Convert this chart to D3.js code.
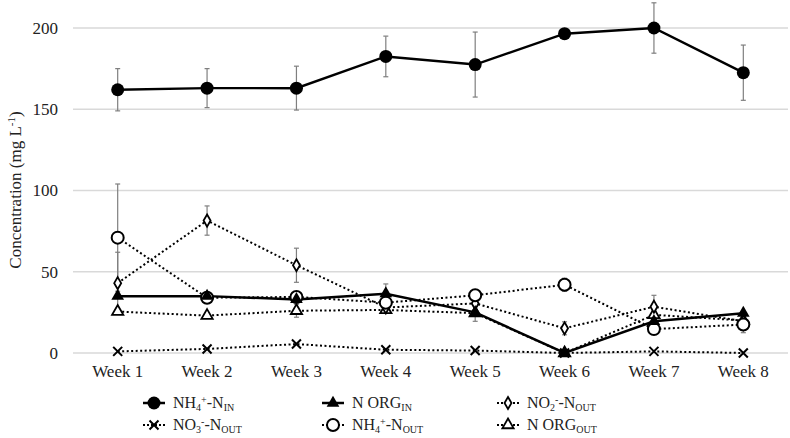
<!DOCTYPE html>
<html><head><meta charset="utf-8">
<script src="https://cdn.jsdelivr.net/npm/d3@7"></script>
</head><body style="margin:0;background:#fff">
<svg id="c" width="790" height="438" font-family="Liberation Serif" style="display:block"></svg>
<script>
const weeks = ["Week 1","Week 2","Week 3","Week 4","Week 5","Week 6","Week 7","Week 8"];
const yTicks = [0,50,100,150,200];
const nh4In    = [162,163,163,182.5,177.5,196.5,200,172.5];
const nh4InErr = [13,12,13.5,12.5,20,0,15.5,17];
const norgIn    = [35,35,33,36.5,25,0,19.5,24.5];
const norgInErr = [0,0,0,6,0,0,0,0];
const no2Out    = [43,81.5,54,28,30.5,15.2,28.5,19.5];
const no2OutErr = [19,9,10.5,0,0,4,7,0];
const no3Out    = [1,2.5,5.5,2,1.5,0,1,0];
const no3OutErr = [0,0,0,0,0,0,0,0];
const nh4Out    = [71,34,34.5,31,35.5,42,14.7,17.5];
const nh4OutErr = [33,0,0,0,0,4,0,5];
const norgOut    = [25.5,23,26,26.5,24.5,0,23.5,20];
const norgOutErr = [0,0,4,0,5,0,0,0];

const FONT = "Liberation Serif";
const svg = d3.select("#c");
const x = d3.scaleBand().domain(weeks).range([73,788]);
const y = d3.scaleLinear().domain([0,200]).range([353,28]);
const cx = w => x(w) + x.bandwidth()/2;

svg.append("g").selectAll("line").data(yTicks).join("line")
  .attr("x1",73).attr("x2",788).attr("y1",d=>y(d)).attr("y2",d=>y(d))
  .attr("stroke","#d9d9d9").attr("stroke-width",1.5);

svg.append("g").selectAll("text").data(yTicks).join("text")
  .attr("x",58).attr("y",d=>y(d)).attr("dy","0.35em").attr("text-anchor","end")
  .attr("font-family",FONT).attr("font-size",17).attr("fill","#222").text(d=>d);

svg.append("g").selectAll("text").data(weeks).join("text")
  .attr("x",d=>cx(d)).attr("y",377).attr("text-anchor","middle")
  .attr("font-family",FONT).attr("font-size",17).attr("fill","#222").text(d=>d);

const yt = svg.append("text").attr("transform","translate(21,190) rotate(-90)")
  .attr("text-anchor","middle").attr("font-family",FONT).attr("font-size",17).attr("fill","#222");
yt.append("tspan").text("Concentration (mg L");
yt.append("tspan").text("-1").attr("baseline-shift","6").attr("font-size",11);
yt.append("tspan").text(")");

const series = [
  {vals:no3Out, err:no3OutErr, dotted:true, m:"x"},
  {vals:norgOut, err:norgOutErr, dotted:true, m:"tri-open"},
  {vals:no2Out, err:no2OutErr, dotted:true, m:"diamond"},
  {vals:nh4Out, err:nh4OutErr, dotted:true, m:"circle-open"},
  {vals:norgIn, err:norgInErr, dotted:false, m:"tri"},
  {vals:nh4In, err:nh4InErr, dotted:false, m:"circle"}
];

series.forEach(s=>{
  const g = svg.append("g").attr("stroke","#7f7f7f").attr("stroke-width",1.2);
  weeks.forEach((w,i)=>{
    const e = s.err[i]; if(!e) return;
    const xx = cx(w), y1 = y(s.vals[i]+e), y2 = y(Math.max(0,s.vals[i]-e));
    g.append("line").attr("x1",xx).attr("x2",xx).attr("y1",y1).attr("y2",y2);
    g.append("line").attr("x1",xx-2.5).attr("x2",xx+2.5).attr("y1",y1).attr("y2",y1);
    g.append("line").attr("x1",xx-2.5).attr("x2",xx+2.5).attr("y1",y2).attr("y2",y2);
  });
});

function marker(g, type, px, py){
  if(type==="circle") g.append("circle").attr("cx",px).attr("cy",py).attr("r",6.5).attr("fill","#000");
  else if(type==="circle-open") g.append("circle").attr("cx",px).attr("cy",py).attr("r",6).attr("fill","#fff").attr("stroke","#000").attr("stroke-width",2);
  else if(type==="tri") g.append("path").attr("d",d3.symbol(d3.symbolTriangle,70)()).attr("transform",`translate(${px},${py})`).attr("fill","#000");
  else if(type==="tri-open") g.append("path").attr("d",d3.symbol(d3.symbolTriangle,55)()).attr("transform",`translate(${px},${py})`).attr("fill","#fff").attr("stroke","#000").attr("stroke-width",1.8);
  else if(type==="diamond") g.append("path").attr("d",d3.symbol(d3.symbolDiamond,42)()).attr("transform",`translate(${px},${py})`).attr("fill","#fff").attr("stroke","#000").attr("stroke-width",1.8);
  else if(type==="x"){ const r=4.5;
    g.append("path").attr("d",`M${px-r},${py-r}L${px+r},${py+r}M${px-r},${py+r}L${px+r},${py-r}`).attr("stroke","#000").attr("stroke-width",2);
  }
}

const line = d3.line().x((d,i)=>cx(weeks[i])).y(d=>y(d));
series.forEach(s=>{
  svg.append("path").datum(s.vals).attr("d",line).attr("fill","none").attr("stroke","#000")
    .attr("stroke-width", s.dotted?2:2.5).attr("stroke-dasharray", s.dotted?"2,2.5":null);
});
series.forEach(s=>{
  const g = svg.append("g");
  s.vals.forEach((v,i)=>marker(g, s.m, cx(weeks[i]), y(v)));
});

const legendItems = [
  {m:"circle", dotted:false, x:143, y:403, parts:[["NH",""],["4","sub"],["+","sup"],["-N",""],["IN","sub"]]},
  {m:"tri", dotted:false, x:322, y:403, parts:[["N ORG",""],["IN","sub"]]},
  {m:"diamond", dotted:true, x:497, y:403, parts:[["NO",""],["2","sub"],["-","sup"],["-N",""],["OUT","sub"]]},
  {m:"x", dotted:true, x:143, y:425, parts:[["NO",""],["3","sub"],["-","sup"],["-N",""],["OUT","sub"]]},
  {m:"circle-open", dotted:true, x:322, y:425, parts:[["NH",""],["4","sub"],["+","sup"],["-N",""],["OUT","sub"]]},
  {m:"tri-open", dotted:true, x:497, y:425, parts:[["N ORG",""],["OUT","sub"]]}
];
legendItems.forEach(l=>{
  const g = svg.append("g");
  g.append("line").attr("x1",l.x).attr("x2",l.x+22).attr("y1",l.y).attr("y2",l.y)
    .attr("stroke","#000").attr("stroke-width",l.dotted?2:2.5).attr("stroke-dasharray",l.dotted?"2,2":null);
  marker(g, l.m, l.x+11, l.y);
  const t = g.append("text").attr("x",l.x+30).attr("y",l.y+5).attr("font-family",FONT).attr("font-size",16).attr("fill","#222");
  l.parts.forEach(([s,k])=>{
    const ts = t.append("tspan").text(s);
    if(k==="sub"){ ts.attr("font-size",10).attr("baseline-shift","-3"); }
    else if(k==="sup"){ ts.attr("font-size",10).attr("baseline-shift","5"); }
  });
});
</script>
</body></html>
